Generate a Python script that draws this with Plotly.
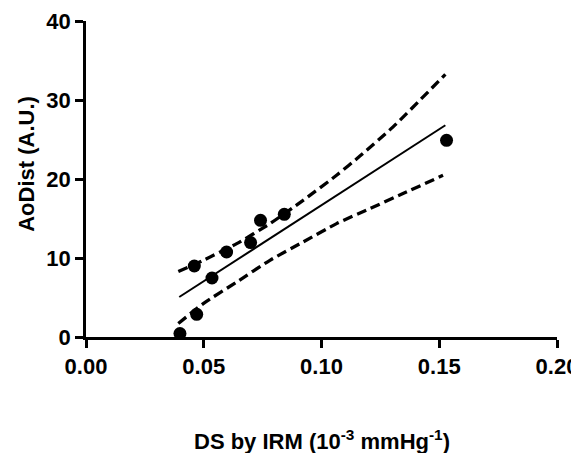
import plotly.graph_objects as go

# Data points
ds_x = [0.0399, 0.0460, 0.0470, 0.0535, 0.0597, 0.0699, 0.0741, 0.0842, 0.1531]
aodist_y = [0.43, 8.99, 2.87, 7.47, 10.76, 11.95, 14.77, 15.53, 24.9]

# Regression line
fit_x = [0.0396, 0.1526]
fit_y = [5.06, 26.8]

# Confidence bands
upper_x = [0.0392, 0.0498, 0.0640, 0.0781, 0.0922, 0.1064, 0.1163, 0.1304, 0.1526]
upper_y = [8.30, 9.71, 11.82, 14.35, 17.30, 20.47, 22.9, 26.6, 33.25]
lower_x = [0.0392, 0.0498, 0.0640, 0.0781, 0.0922, 0.1064, 0.1205, 0.1346, 0.1516]
lower_y = [1.70, 4.23, 6.96, 9.71, 12.03, 14.35, 16.25, 18.15, 20.47]

x_ticks = [0, 0.05, 0.10, 0.15, 0.20]
x_tick_text = ["0.00", "0.05", "0.10", "0.15", "0.20"]
y_ticks = [0, 10, 20, 30, 40]
y_tick_text = ["0", "10", "20", "30", "40"]

x_title = "DS by IRM (10<sup>-3</sup> mmHg<sup>-1</sup>)"
y_title = "AoDist (A.U.)"

fig = go.Figure()
for bx, by in [(upper_x, upper_y), (lower_x, lower_y)]:
    fig.add_trace(go.Scatter(x=bx, y=by, mode="lines",
                             line=dict(color="black", width=3.3, dash="10px,5px", shape="spline", smoothing=0.6),
                             hoverinfo="skip"))
fig.add_trace(go.Scatter(x=fit_x, y=fit_y, mode="lines",
                         line=dict(color="black", width=2)))
fig.add_trace(go.Scatter(x=ds_x, y=aodist_y, mode="markers",
                         marker=dict(color="black", size=13), cliponaxis=False))

font_family = "Liberation Sans, Arial, sans-serif"
fig.update_layout(
    width=571, height=445,
    margin=dict(l=78, r=22, t=13, b=116, autoexpand=False),
    plot_bgcolor="white", paper_bgcolor="white",
    showlegend=False,
    font=dict(family=font_family, color="black"),
    xaxis=dict(
        range=[0, 0.20], tickvals=x_ticks, ticktext=["<b>%s</b>" % t for t in x_tick_text],
        showgrid=False, zeroline=False, showline=True, linecolor="black", linewidth=2.5,
        ticks="outside", ticklen=8, tickwidth=2.5, tickcolor="black",
        tickfont=dict(size=22, family=font_family), automargin=False,
    ),
    yaxis=dict(
        range=[0, 40], tickvals=y_ticks, ticktext=["<b>%s</b>" % t for t in y_tick_text],
        showgrid=False, zeroline=False, showline=True, linecolor="black", linewidth=2.5,
        ticks="outside", ticklen=8, tickwidth=2.5, tickcolor="black",
        tickfont=dict(size=22, family=font_family), automargin=False,
    ),
    annotations=[
        dict(text="<b>%s</b>" % x_title, xref="paper", yref="paper", x=0.5, y=0,
             xanchor="center", yanchor="middle", yshift=-103, showarrow=False,
             font=dict(size=22, family=font_family)),
        dict(text="<b>%s</b>" % y_title, xref="paper", yref="paper", x=0, y=0.548,
             xanchor="center", yanchor="middle", xshift=-59, textangle=-90, showarrow=False,
             font=dict(size=22, family=font_family)),
    ],
)

fig.write_html("out.html")
